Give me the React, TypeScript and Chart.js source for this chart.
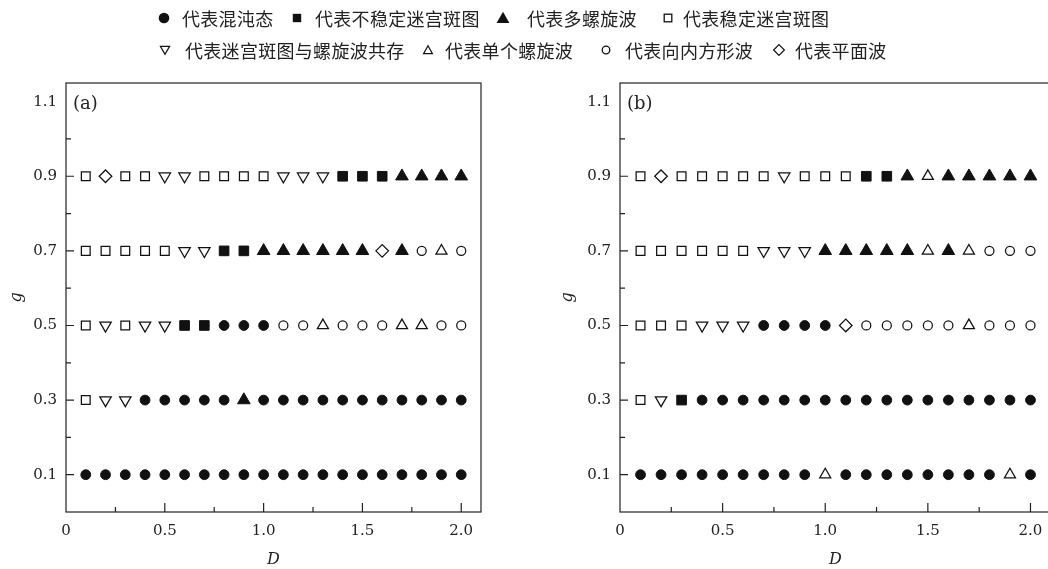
import React, { useEffect, useRef } from 'react';
import { Chart, registerables } from 'chart.js';

Chart.register(...registerables);

// ---------------- data ----------------
const D_VALUES = [0.1, 0.2, 0.3, 0.4, 0.5, 0.6, 0.7, 0.8, 0.9, 1.0, 1.1, 1.2, 1.3, 1.4, 1.5, 1.6, 1.7, 1.8, 1.9, 2.0];
const G_VALUES = [0.1, 0.3, 0.5, 0.7, 0.9];

// state codes: C 混沌态, U 不稳定迷宫斑图, M 多螺旋波, L 稳定迷宫斑图,
// X 迷宫斑图与螺旋波共存, S 单个螺旋波, I 向内方形波, P 平面波
const A_G01 = ['C', 'C', 'C', 'C', 'C', 'C', 'C', 'C', 'C', 'C', 'C', 'C', 'C', 'C', 'C', 'C', 'C', 'C', 'C', 'C'];
const A_G03 = ['L', 'X', 'X', 'C', 'C', 'C', 'C', 'C', 'M', 'C', 'C', 'C', 'C', 'C', 'C', 'C', 'C', 'C', 'C', 'C'];
const A_G05 = ['L', 'X', 'L', 'X', 'X', 'U', 'U', 'C', 'C', 'C', 'I', 'I', 'S', 'I', 'I', 'I', 'S', 'S', 'I', 'I'];
const A_G07 = ['L', 'L', 'L', 'L', 'L', 'X', 'X', 'U', 'U', 'M', 'M', 'M', 'M', 'M', 'M', 'P', 'M', 'I', 'S', 'I'];
const A_G09 = ['L', 'P', 'L', 'L', 'X', 'X', 'L', 'L', 'L', 'L', 'X', 'X', 'X', 'U', 'U', 'U', 'M', 'M', 'M', 'M'];

const B_G01 = ['C', 'C', 'C', 'C', 'C', 'C', 'C', 'C', 'C', 'S', 'C', 'C', 'C', 'C', 'C', 'C', 'C', 'C', 'S', 'C'];
const B_G03 = ['L', 'X', 'U', 'C', 'C', 'C', 'C', 'C', 'C', 'C', 'C', 'C', 'C', 'C', 'C', 'C', 'C', 'C', 'C', 'C'];
const B_G05 = ['L', 'L', 'L', 'X', 'X', 'X', 'C', 'C', 'C', 'C', 'P', 'I', 'I', 'I', 'I', 'I', 'S', 'I', 'I', 'I'];
const B_G07 = ['L', 'L', 'L', 'L', 'L', 'L', 'X', 'X', 'X', 'M', 'M', 'M', 'M', 'M', 'S', 'M', 'S', 'I', 'I', 'I'];
const B_G09 = ['L', 'P', 'L', 'L', 'L', 'L', 'L', 'X', 'L', 'L', 'L', 'U', 'U', 'M', 'S', 'M', 'M', 'M', 'M', 'M'];

const PANEL_A_ROWS = [A_G01, A_G03, A_G05, A_G07, A_G09];
const PANEL_B_ROWS = [B_G01, B_G03, B_G05, B_G07, B_G09];

const STATE_KEYS = ['C', 'U', 'M', 'L', 'X', 'S', 'I', 'P'];
const STATE_LABELS = [
  '代表混沌态',
  '代表不稳定迷宫斑图',
  '代表多螺旋波',
  '代表稳定迷宫斑图',
  '代表迷宫斑图与螺旋波共存',
  '代表单个螺旋波',
  '代表向内方形波',
  '代表平面波',
];

const X_TICKS = [0, 0.5, 1.0, 1.5, 2.0];
const X_LABELS = ['0', '0.5', '1.0', '1.5', '2.0'];
const X_MINOR = [0.25, 0.75, 1.25, 1.75];
const Y_TICKS = [0.1, 0.3, 0.5, 0.7, 0.9, 1.1];
const Y_LABELS = ['0.1', '0.3', '0.5', '0.7', '0.9', '1.1'];
const Y_MARKED = [0.1, 0.3, 0.5, 0.7, 0.9];
const Y_MINOR = [0.2, 0.4, 0.6, 0.8, 1.0];

// ---------------- styles ----------------
const INK = '#111';
const TICK_FONT = { family: "'DejaVu Serif', serif", size: 15 };
const TITLE_FONT = { family: "'DejaVu Serif', serif", size: 16, style: 'italic' as const };

type Marker = { style: string; rotation: number; radius: number; filled: boolean };
const MARKERS: Record<string, Marker> = {
  C: { style: 'circle', rotation: 0, radius: 4.9, filled: true },
  U: { style: 'rect', rotation: 0, radius: 6.8, filled: true },
  M: { style: 'triangle', rotation: 0, radius: 7.3, filled: true },
  L: { style: 'rect', rotation: 0, radius: 6.2, filled: false },
  X: { style: 'triangle', rotation: 180, radius: 6.6, filled: false },
  S: { style: 'triangle', rotation: 0, radius: 6.4, filled: false },
  I: { style: 'circle', rotation: 0, radius: 4.5, filled: false },
  P: { style: 'rectRot', rotation: 0, radius: 6.3, filled: false },
};

// legend layout: [key, row, symbol centre x, text left x]
const LEGEND_LAYOUT: [string, number, number, number][] = [
  ['C', 0, 164, 182],
  ['U', 0, 297, 315],
  ['M', 0, 503, 527],
  ['L', 0, 668, 683],
  ['X', 1, 165, 185],
  ['S', 1, 428, 445],
  ['I', 1, 606, 625],
  ['P', 1, 779, 795],
];
const LEGEND_ROW_Y = [18, 50];

function buildDatasets(rows: string[][]) {
  return STATE_KEYS.map((key) => {
    const m = MARKERS[key];
    const data: { x: number; y: number }[] = [];
    rows.forEach((row, r) => {
      row.forEach((code, i) => {
        if (code === key) data.push({ x: D_VALUES[i], y: G_VALUES[r] });
      });
    });
    return {
      label: STATE_LABELS[STATE_KEYS.indexOf(key)],
      data,
      showLine: false,
      pointStyle: m.style,
      pointRotation: m.rotation,
      pointRadius: m.radius,
      pointBackgroundColor: m.filled ? INK : '#fff',
      pointBorderColor: INK,
      pointBorderWidth: m.filled ? 1 : 1.25,
    };
  });
}

function framePlugin(panelLabel: string) {
  return {
    id: 'frame' + panelLabel,
    afterDraw(chart: any) {
      const { ctx, chartArea } = chart;
      const xs = chart.scales.x;
      const ys = chart.scales.y;
      const { left, right, top, bottom } = chartArea;
      ctx.save();
      ctx.strokeStyle = '#222';
      ctx.lineWidth = 1.2;
      ctx.strokeRect(left, top, right - left, bottom - top);
      ctx.beginPath();
      Y_MARKED.forEach((v) => {
        const p = ys.getPixelForValue(v);
        ctx.moveTo(left, p);
        ctx.lineTo(left + 8, p);
      });
      Y_MINOR.forEach((v) => {
        const p = ys.getPixelForValue(v);
        ctx.moveTo(left, p);
        ctx.lineTo(left + 5, p);
      });
      X_TICKS.slice(1).forEach((v) => {
        const p = xs.getPixelForValue(v);
        ctx.moveTo(p, bottom);
        ctx.lineTo(p, bottom - 9);
      });
      X_MINOR.forEach((v) => {
        const p = xs.getPixelForValue(v);
        ctx.moveTo(p, bottom);
        ctx.lineTo(p, bottom - 5);
      });
      ctx.stroke();
      ctx.fillStyle = '#222';
      ctx.font = "18px 'DejaVu Serif', serif";
      ctx.textBaseline = 'middle';
      ctx.textAlign = 'left';
      ctx.fillText(panelLabel, left + 7, top + 21);
      ctx.restore();
    },
  };
}

function makeConfig(rows: string[][], panelLabel: string, padLeft: number, padRight: number, yWidth: number) {
  return {
    type: 'scatter' as const,
    data: { datasets: buildDatasets(rows) },
    options: {
      animation: false as const,
      responsive: false,
      devicePixelRatio: 1,
      events: [],
      layout: { padding: { left: padLeft, top: 83, right: padRight, bottom: 0 } },
      plugins: { legend: { display: false }, tooltip: { enabled: false } },
      scales: {
        x: {
          type: 'linear' as const,
          min: 0,
          max: 2.1,
          grid: { display: false, drawTicks: false },
          border: { display: false },
          afterBuildTicks: (s: any) => {
            s.ticks = X_TICKS.map((v) => ({ value: v }));
          },
          afterFit: (s: any) => {
            s.height = 57;
          },
          ticks: {
            autoSkip: false,
            maxRotation: 0,
            padding: 10,
            color: '#222',
            font: TICK_FONT,
            callback: (_v: any, i: number) => X_LABELS[i],
          },
          title: { display: true, text: 'D', color: '#222', font: TITLE_FONT, padding: { top: 0, bottom: 0 } },
        },
        y: {
          type: 'linear' as const,
          min: 0,
          max: 1.15,
          grid: { display: false, drawTicks: false },
          border: { display: false },
          afterBuildTicks: (s: any) => {
            s.ticks = Y_TICKS.map((v) => ({ value: v }));
          },
          afterFit: (s: any) => {
            s.width = yWidth;
          },
          ticks: {
            autoSkip: false,
            padding: 9,
            color: '#222',
            font: TICK_FONT,
            callback: (_v: any, i: number) => Y_LABELS[i],
          },
          title: { display: true, text: 'g', color: '#222', font: TITLE_FONT, padding: { top: 7, bottom: 0 } },
        },
      },
    },
    plugins: [framePlugin(panelLabel)],
  };
}

function LegendSymbol({ k }: { k: string }) {
  let shape: React.ReactNode = null;
  switch (k) {
    case 'C':
      shape = <circle cx={0} cy={0} r={5.3} fill={INK} />;
      break;
    case 'U':
      shape = <rect x={-4.2} y={-4.2} width={8.4} height={8.4} fill={INK} />;
      break;
    case 'M':
      shape = <polygon points="0,-6.2 6.4,5 -6.4,5" fill={INK} />;
      break;
    case 'L':
      shape = <rect x={-3.8} y={-3.8} width={7.6} height={7.6} fill="none" stroke={INK} strokeWidth={1.3} />;
      break;
    case 'X':
      shape = <polygon points="-4.6,-3.6 4.6,-3.6 0,4.2" fill="none" stroke={INK} strokeWidth={1.2} />;
      break;
    case 'S':
      shape = <polygon points="0,-4.2 4.4,3.6 -4.4,3.6" fill="none" stroke={INK} strokeWidth={1.2} />;
      break;
    case 'I':
      shape = <circle cx={0} cy={0} r={3.8} fill="none" stroke={INK} strokeWidth={1.3} />;
      break;
    case 'P':
      shape = <polygon points="0,-5.4 5.4,0 0,5.4 -5.4,0" fill="none" stroke={INK} strokeWidth={1.2} />;
      break;
  }
  return (
    <svg width={16} height={16} viewBox="-8 -8 16 16" style={{ display: 'block' }}>
      {shape}
    </svg>
  );
}

export default function App() {
  const refA = useRef<HTMLCanvasElement | null>(null);
  const refB = useRef<HTMLCanvasElement | null>(null);

  useEffect(() => {
    const a = new Chart(refA.current as HTMLCanvasElement, makeConfig(PANEL_A_ROWS, '(a)', 0, 43, 66) as any);
    const b = new Chart(refB.current as HTMLCanvasElement, makeConfig(PANEL_B_ROWS, '(b)', 27, 13, 69) as any);
    return () => {
      a.destroy();
      b.destroy();
    };
  }, []);

  return (
    <div
      style={{
        position: 'fixed',
        left: 0,
        top: 0,
        width: 1048,
        height: 569,
        overflow: 'hidden',
        background: '#fff',
      }}
    >
      <canvas ref={refA} width={524} height={569} style={{ position: 'absolute', left: 0, top: 0 }} />
      <canvas ref={refB} width={540} height={569} style={{ position: 'absolute', left: 524, top: 0 }} />
      {LEGEND_LAYOUT.map(([k, row, sx, tx]) => (
        <React.Fragment key={k}>
          <div style={{ position: 'absolute', left: sx - 8, top: LEGEND_ROW_Y[row] - 8 }}>
            <LegendSymbol k={k} />
          </div>
          <div
            style={{
              position: 'absolute',
              left: tx,
              top: LEGEND_ROW_Y[row] - 12,
              height: 24,
              lineHeight: '24px',
              fontSize: 18,
              letterSpacing: '0.3px',
              whiteSpace: 'nowrap',
              color: '#222',
              fontFamily: "'Noto Sans CJK SC', sans-serif",
            }}
          >
            {STATE_LABELS[STATE_KEYS.indexOf(k)]}
          </div>
        </React.Fragment>
      ))}
    </div>
  );
}
